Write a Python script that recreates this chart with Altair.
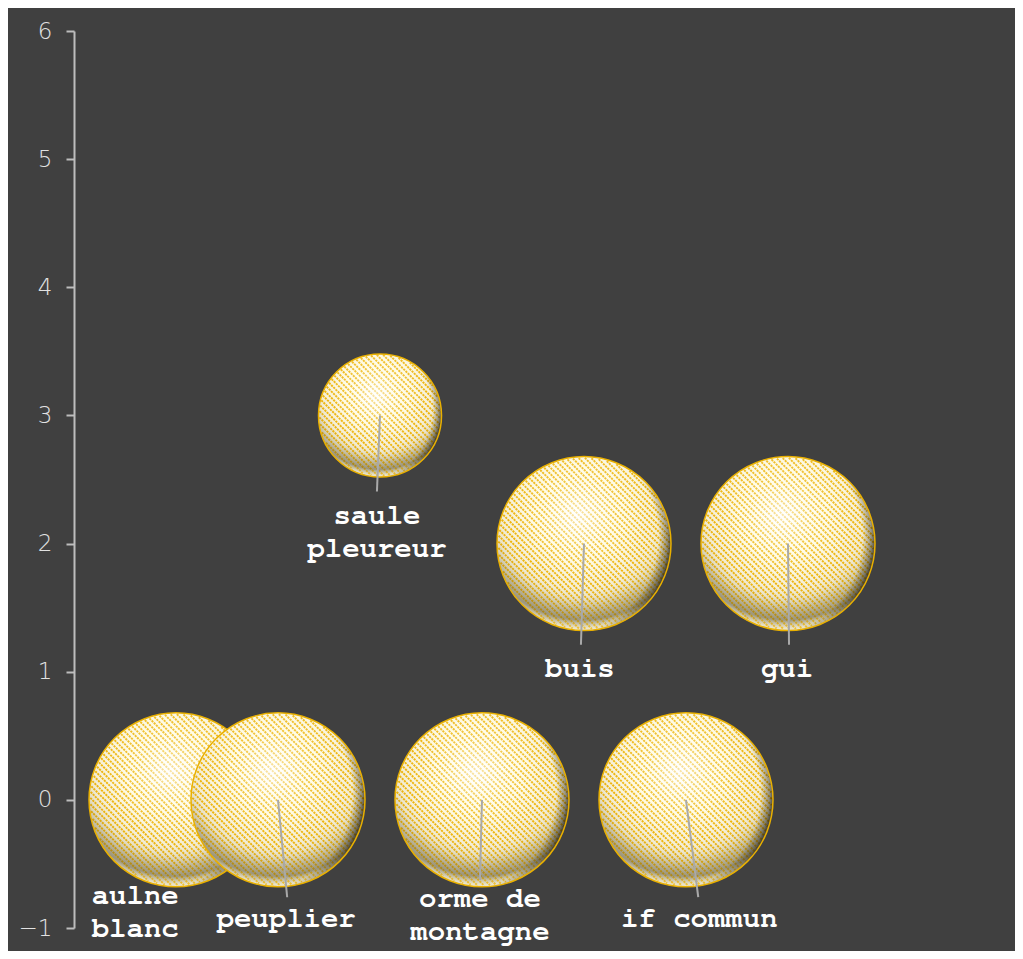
import math
import altair as alt
import pandas as pd

# ---- data ----
names = ["aulne blanc", "peuplier", "saule pleureur", "orme de montagne", "buis", "if commun", "gui"]
x_vals = [1, 2, 3, 4, 5, 6, 7]
y_vals = [0, 0, 3, 0, 2, 0, 2]
z_vals = [2, 2, 1, 2, 2, 2, 2]
label_text = ["aulne\nblanc", "peuplier", "saule\npleureur", "orme de\nmontagne", "buis", "if commun", "gui"]
label_x = [0.60, 2.08, 2.97, 3.98, 4.96, 6.13, 6.99]
label_y = [-0.742, -0.92, 2.225, -0.765, 1.03, -0.92, 1.03]
conn_x2 = [None, 2.09, 2.97, 3.98, 4.97, 6.12, 7.01]
conn_y2 = [None, -0.76, 2.406, -0.625, 1.21, -0.76, 1.21]
y_ticks = [-1, 0, 1, 2, 3, 4, 5, 6]

df = pd.DataFrame({
    "i": list(range(len(names))),
    "name": names,
    "x": x_vals,
    "y": y_vals,
    "z": z_vals,
    "label": label_text,
    "lx": label_x,
    "ly": label_y,
    "cx2": conn_x2,
    "cy2": conn_y2,
})


def hatch_path(diam, period=6.4):
    """Diagonal hatch lines clipped to the unit circle (style only)."""
    dc = period / (diam / 2.0)
    n = int(2 * math.sqrt(2) / dc)
    parts = []
    f = 0.985
    for k in range(n + 1):
        c = -math.sqrt(2) + (k + 0.5) * dc
        disc = 2 - c * c
        if disc <= 0.01:
            continue
        s = math.sqrt(disc)
        xa, xb = (-c - s) / 2, (-c + s) / 2
        parts.append(f"M{xa * f:.3f},{(xa + c) * f:.3f}L{xb * f:.3f},{(xb + c) * f:.3f}")
    return "".join(parts)


BIG_D = 174
SMALL_D = 123
hatch_big = hatch_path(BIG_D)
hatch_small = hatch_path(SMALL_D)

xscale = alt.Scale(domain=[0, 9], nice=False, zero=False)
yscale = alt.Scale(domain=[-1, 6], nice=False, zero=False)
sscale = alt.Scale(domain=[0, 2], range=[0, BIG_D * BIG_D], zero=True)
yaxis = alt.Axis(
    title=None, values=y_ticks, grid=False,
    domainColor="#bdbdbd", domainWidth=2,
    tickColor="#bdbdbd", tickWidth=2, tickSize=8,
    labelColor="#e2e2e2", labelFont="DejaVu Sans", labelFontWeight=200,
    labelFontSize=23, labelPadding=14,
)

X = alt.X("x:Q", scale=xscale, axis=None)
Y = alt.Y("y:Q", scale=yscale, axis=yaxis)
S = alt.Size("z:Q", scale=sscale, legend=None)

# pale body under the hatching
base_grad = alt.RadialGradient(
    gradient="radial",
    x1=0.46, y1=0.34, r1=0.0,
    x2=0.5, y2=0.3, r2=0.72,
    stops=[
        alt.GradientStop(offset=0.0, color="#ffffff"),
        alt.GradientStop(offset=0.35, color="#fffbe6"),
        alt.GradientStop(offset=0.7, color="#f1ead0"),
        alt.GradientStop(offset=0.88, color="#cfc8ac"),
        alt.GradientStop(offset=1.0, color="#f3ecd2"),
    ],
)
# light: highlight upper-centre, grey crescent near the bottom, light rim
light_grad = alt.RadialGradient(
    gradient="radial",
    x1=0.46, y1=0.34, r1=0.0,
    x2=0.5, y2=0.3, r2=0.72,
    stops=[
        alt.GradientStop(offset=0.0, color="rgba(255,255,255,0.65)"),
        alt.GradientStop(offset=0.28, color="rgba(255,255,235,0.25)"),
        alt.GradientStop(offset=0.58, color="rgba(255,255,235,0)"),
        alt.GradientStop(offset=0.76, color="rgba(70,65,45,0.14)"),
        alt.GradientStop(offset=0.88, color="rgba(70,65,45,0.38)"),
        alt.GradientStop(offset=0.95, color="rgba(255,250,225,0.2)"),
        alt.GradientStop(offset=1.0, color="rgba(255,250,225,0.15)"),
    ],
)
# darkening toward the right edge
shade_grad = alt.RadialGradient(
    gradient="radial",
    x1=0.36, y1=0.46, r1=0.0,
    x2=0.36, y2=0.46, r2=0.66,
    stops=[
        alt.GradientStop(offset=0.0, color="rgba(0,0,0,0)"),
        alt.GradientStop(offset=0.86, color="rgba(0,0,0,0)"),
        alt.GradientStop(offset=0.94, color="rgba(0,0,0,0.35)"),
        alt.GradientStop(offset=1.0, color="rgba(0,0,0,0.85)"),
    ],
)


def bubble_layers(test):
    base = alt.Chart(df).transform_filter(test).mark_point(
        shape="circle", filled=True, fill=base_grad, opacity=1, strokeOpacity=0
    ).encode(x=X, y=Y, size=S)
    hatch = alt.Chart(df).transform_filter(test).mark_point(
        filled=False, stroke="#eeb200", strokeWidth=1.9, strokeDash=[2.2, 0.9],
        opacity=0.95, strokeCap="butt",
    ).encode(
        x=X, y=Y, size=S,
        shape=alt.condition("datum.z > 1.5", alt.value(hatch_big), alt.value(hatch_small)),
    )
    light = alt.Chart(df).transform_filter(test).mark_point(
        shape="circle", filled=True, fill=light_grad, opacity=1, strokeOpacity=0,
    ).encode(x=X, y=Y, size=S)
    shade = alt.Chart(df).transform_filter(test).mark_point(
        shape="circle", filled=True, fill=shade_grad, opacity=1,
        stroke="#e9b000", strokeWidth=1.5, strokeOpacity=1,
    ).encode(x=X, y=Y, size=S)
    return [base, hatch, light, shade]


rules = alt.Chart(df).transform_filter("isValid(datum.cx2)").mark_rule(
    color="#a9a9a9", strokeWidth=2
).encode(
    x=X, y=Y,
    x2=alt.X2("cx2:Q"), y2=alt.Y2("cy2:Q"),
)

labels = alt.Chart(df).mark_text(
    font="Nimbus Mono PS, FreeMono, Courier New, Liberation Mono, monospace",
    fontWeight="bold", fontSize=29, color="#ffffff",
    lineBreak="\n", lineHeight=33.5, baseline="middle", align="center",
).encode(
    x=alt.X("lx:Q", scale=xscale, axis=None),
    y=alt.Y("ly:Q", scale=yscale, axis=yaxis),
    text="label:N",
)

chart = alt.layer(
    *bubble_layers("datum.i == 0"),
    *bubble_layers("datum.i > 0"),
    rules,
    labels,
).properties(
    width=918, height=897,
    autosize=alt.AutoSizeParams(type="none"),
    padding={"left": 66, "top": 23, "right": 23, "bottom": 23},
    background="#404040",
).configure_view(stroke=None)

chart.save("out.html", embed_options={"renderer": "svg", "actions": False})
